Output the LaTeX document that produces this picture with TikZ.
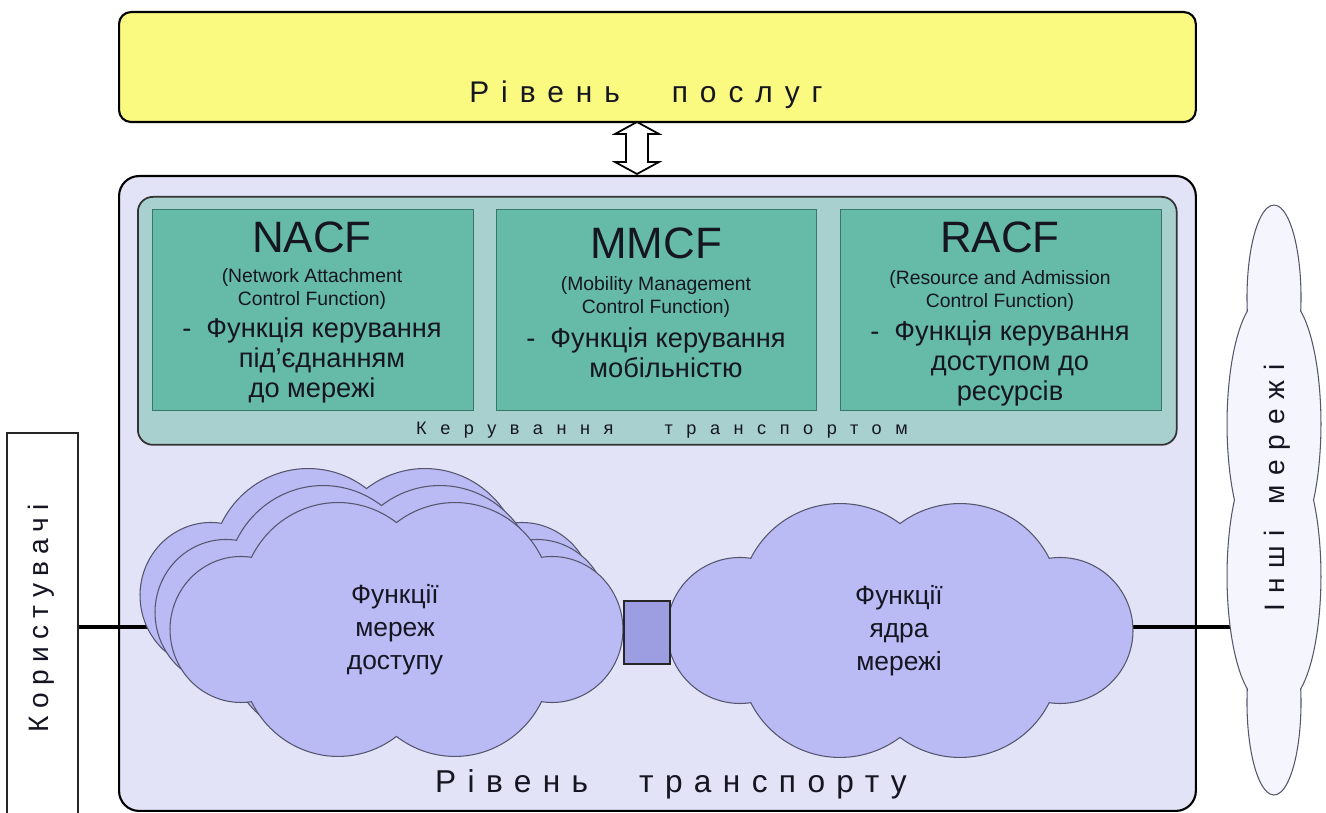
\documentclass[tikz,border=0pt]{standalone}
\usepackage{fontspec}
\setmainfont{Liberation Sans}
\definecolor{yel}{RGB}{250,250,128}
\definecolor{lav}{RGB}{226,227,246}
\definecolor{ctl}{RGB}{168,208,206}
\definecolor{fbox}{RGB}{102,186,168}
\definecolor{fboxline}{RGB}{55,120,105}
\definecolor{cloudc}{RGB}{186,186,244}
\definecolor{cloudline}{RGB}{85,85,110}
\definecolor{sqc}{RGB}{157,157,226}
\definecolor{pale}{RGB}{245,246,253}
\definecolor{ink}{RGB}{22,22,35}
\newcommand\cloudshape{(149.2,72.2) arc[start angle=26.9,end angle=126.9,radius=100] arc[start angle=53.1,end angle=153.1,radius=100] arc[start angle=81.5,end angle=278.5,radius=73] arc[start angle=206.9,end angle=306.9,radius=100] arc[start angle=233.1,end angle=333.1,radius=100] arc[start angle=261.5,end angle=458.5,radius=73] -- cycle}
\begin{document}
\begin{tikzpicture}[x=0.02cm,y=0.02cm,
  layer/.style={draw=black,line width=1.2pt,anchor=north west,inner sep=0},
  func/.style={draw=fboxline,fill=fbox,line width=0.8pt,anchor=north west,inner sep=0,minimum height=4.02cm},
  cloudsh/.style={draw=cloudline,fill=cloudc,line width=0.6pt},
  ftitle/.style={font=\fontsize{25}{30}\selectfont,text=ink,inner sep=0,anchor=base},
  fsub/.style={font=\fontsize{11}{13.1}\selectfont,align=center,text=ink,inner sep=0,anchor=north},
  fdesc/.style={font=\fontsize{15.5}{17.1}\selectfont,align=center,text=ink,inner sep=0,anchor=north},
  cloudtxt/.style={font=\fontsize{15}{18.8}\selectfont,align=center,text=ink,inner sep=0},
  link/.style={line width=2.2pt,black}]
\useasboundingbox (0,0) rectangle (1326,-813);
\fill[white] (0,0) rectangle (1326,-813);

% service level
\node[layer,fill=yel,rounded corners=0.24cm,minimum width=21.54cm,minimum height=2.2cm] (services) at (118,-11) {};
\node[font=\fontsize{17}{20}\selectfont\addfontfeatures{LetterSpace=40},text=ink,inner sep=0,anchor=base] (svc-label) at (646,-103) {Рівень\hspace{1.04cm}послуг};

% transport level
\node[layer,fill=lav,rounded corners=0.4cm,minimum width=21.54cm,minimum height=12.7cm] (transport) at (118,-175) {};

% double arrow
\draw[line width=1pt,fill=white] (637,-122) -- (659,-134) -- (648,-134) -- (648,-162) -- (659,-162) -- (637,-174) -- (615,-162) -- (626,-162) -- (626,-134) -- (615,-134) -- cycle;

% control box
\node[draw=black!80,line width=1pt,fill=ctl,rounded corners=0.3cm,anchor=north west,inner sep=0,minimum width=20.78cm,minimum height=4.96cm] (control) at (137,-196) {};
\node[font=\fontsize{10.3}{12}\selectfont\addfontfeatures{LetterSpace=75},text=ink,inner sep=0,anchor=base] (ctl-label) at (662,-435) {Керування\hspace{1.02cm}транспортом};

\node[func,minimum width=6.42cm] (nacf) at (152,-209) {};
\node[func,minimum width=6.4cm] (mmcf) at (496,-209) {};
\node[func,minimum width=6.42cm] (racf) at (840,-209) {};

\node[ftitle] (nacf-t) at (312,-253) {NACF};
\node[fsub] (nacf-s) at (312,-268) {(Network Attachment\\Control Function)};
\node[fdesc] (nacf-d) at (312,-317) {-\ \ Функція керування\\\hspace*{0.4cm}під’єднанням\\до мережі};

\node[ftitle] (mmcf-t) at (656,-259) {MMCF};
\node[fsub] (mmcf-s) at (656,-276) {(Mobility Management\\Control Function)};
\node[fdesc] (mmcf-d) at (656,-327) {-\ \ Функція керування\\\hspace*{0.4cm}мобільністю};

\node[ftitle] (racf-t) at (1000,-253) {RACF};
\node[fsub] (racf-s) at (1000,-270) {(Resource and Admission\\Control Function)};
\node[fdesc] (racf-d) at (1000,-320) {-\ \ Функція керування\\\hspace*{0.4cm}доступом до\\\hspace*{0.4cm}ресурсів};

% users
\node[draw=black!85,line width=0.9pt,fill=white,minimum width=1.42cm,minimum height=7.76cm,inner sep=0] (users) at (42.5,-627) {};
\node[rotate=90,font=\fontsize{16}{19}\selectfont\addfontfeatures{LetterSpace=26},text=ink,inner sep=0] (users-t) at (41,-618) {Користувачі};

% connectors
\coordinate (acc-w) at (152,-627);
\coordinate (core-e) at (1131,-627);
\coordinate (oth-w) at (1234,-627);
\draw[link] (users.east |- acc-w) -- (acc-w);
\draw[link] (core-e) -- (oth-w);

% access network clouds
\begin{scope}[shift={(366.5,-595.5)},xscale=0.972] \draw[cloudsh] \cloudshape; \end{scope}
\begin{scope}[shift={(381.5,-612.5)},xscale=0.972] \draw[cloudsh] \cloudshape; \end{scope}
\begin{scope}[shift={(396.5,-629.5)},xscale=0.972] \draw[cloudsh] \cloudshape; \end{scope}
\node[cloudtxt] (access) at (395,-630) {Функції\\мереж\\доступу};

% core cloud
\begin{scope}[shift={(900,-630.5)}] \draw[cloudsh] \cloudshape; \end{scope}
\node[cloudtxt] (core) at (899,-631) {Функції\\ядра\\мережі};

% gateway square
\node[draw=black!85,line width=1.1pt,fill=sqc,anchor=north west,inner sep=0,minimum width=0.92cm,minimum height=1.26cm] (gw) at (623,-600) {};

\node[font=\fontsize{18}{21}\selectfont\addfontfeatures{LetterSpace=36},text=ink,inner sep=0,anchor=base] (tr-label) at (671,-793) {Рівень\hspace{1.02cm}транспорту};

% other networks
\begin{scope}[shift={(1274,-500)},rotate=90,xscale=1.266,yscale=0.37] \draw[cloudsh,fill=pale] \cloudshape; \end{scope}
\node[rotate=90,font=\fontsize{16}{19}\selectfont\addfontfeatures{LetterSpace=35},text=ink,inner sep=0] (other-t) at (1277,-488) {Інші\hspace{0.5cm}мережі};
\end{tikzpicture}
\end{document}
